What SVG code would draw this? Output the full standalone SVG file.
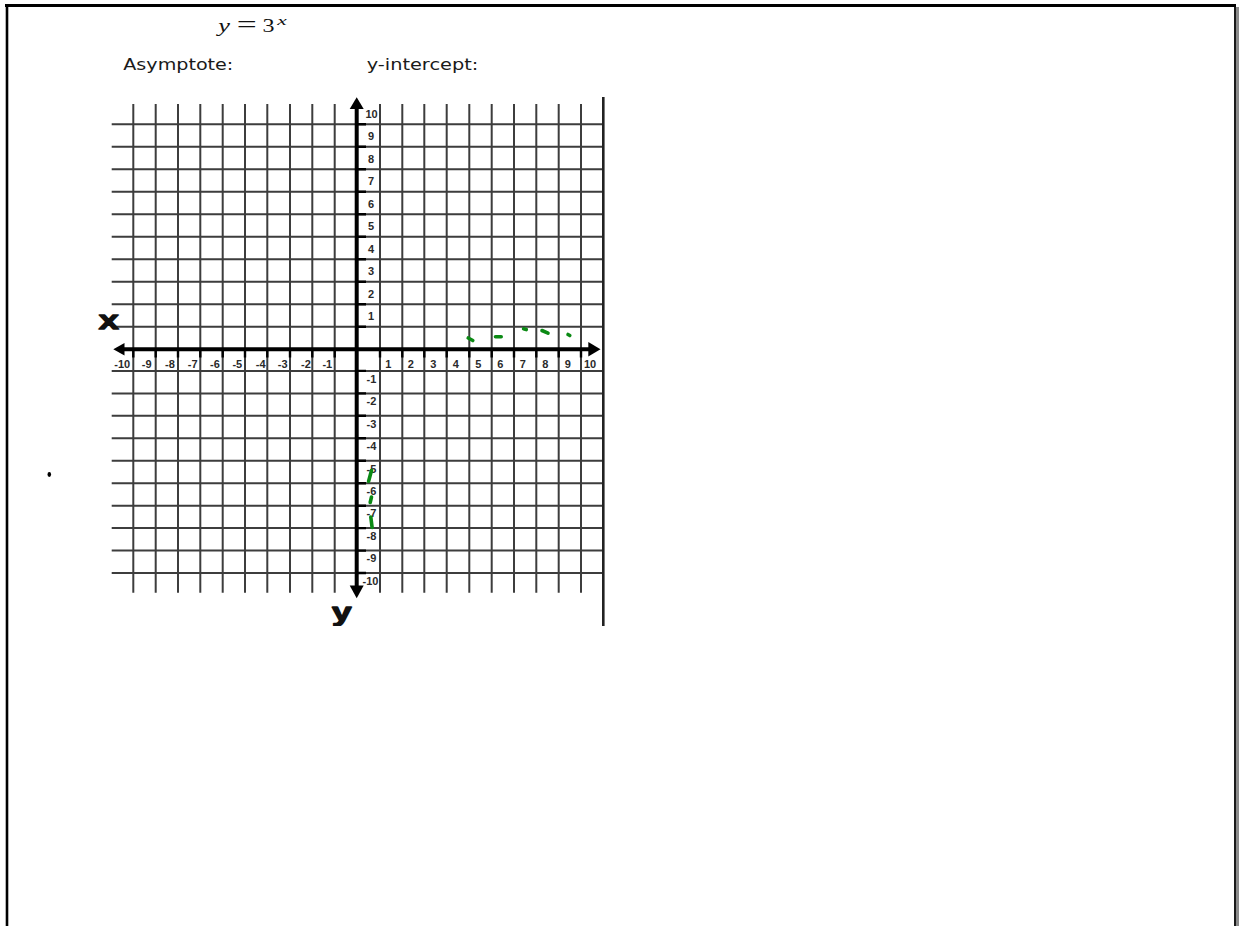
<svg xmlns="http://www.w3.org/2000/svg" width="1239" height="926" viewBox="0 0 1239 926">
<style>
.grid{stroke:#3d3d3d;stroke-width:2;fill:none}
.axis{stroke:#000;stroke-width:4;fill:none}
.tick{stroke:#000;stroke-width:2.4;fill:none}
.lab{font-family:"Liberation Sans",Arial,sans-serif;font-weight:bold;font-size:11px;fill:#2a2a2a;text-anchor:middle}
.big{font-family:"Liberation Sans",Arial,sans-serif;font-weight:bold;font-size:25.6px;fill:#111;stroke:#111;stroke-width:1.3;stroke-linejoin:round}
.hdr{font-family:"DejaVu Sans",Verdana,sans-serif;font-size:16px;fill:#1a1a1a}
.math{font-family:"Liberation Serif","Times New Roman",serif;fill:#111}
.ink{stroke:#0b8a14;stroke-width:3.6;stroke-linecap:round;fill:none}
</style>
<defs>
<clipPath id="clip"><rect x="0" y="0" width="620" height="626"/></clipPath>
</defs>
<rect width="1239" height="926" fill="#fff"/>
<g id="frame">
<line x1="5" y1="5.5" x2="1236" y2="5.5" stroke="#000" stroke-width="3"/>
<line x1="7" y1="5" x2="7" y2="926" stroke="#000" stroke-width="2.6"/>
<line x1="1235" y1="5" x2="1235" y2="926" stroke="#000" stroke-width="1.8"/>
<rect x="1236" y="7" width="3" height="919" fill="#8a8a8a"/>
</g>
<g id="title">
<text class="math" x="218.3" y="31.7" font-size="18" font-style="italic" textLength="11.7" lengthAdjust="spacingAndGlyphs">y</text>
<text class="math" x="236.7" y="32" font-size="24" textLength="20" lengthAdjust="spacingAndGlyphs">=</text>
<text class="math" x="262.5" y="31.7" font-size="18" textLength="12" lengthAdjust="spacingAndGlyphs">3</text>
<text class="math" x="277.3" y="25" font-size="13" font-style="italic" textLength="9.5" lengthAdjust="spacingAndGlyphs">x</text>
</g>
<g id="asymptote-label"><text class="hdr" x="123.3" y="70" textLength="110" lengthAdjust="spacingAndGlyphs">Asymptote:</text></g>
<g id="intercept-label"><text class="hdr" x="366.7" y="70" textLength="111.6" lengthAdjust="spacingAndGlyphs">y-intercept:</text></g>
<g id="graph" clip-path="url(#clip)">
<g id="grid" class="grid">
<path d="M133.3 104V592.7M155.7 104V592.7M178 104V592.7M200.3 104V592.7M222.7 104V592.7M245 104V592.7M267.3 104V592.7M290 104V592.7M312.3 104V592.7M334.7 104V592.7M380 104V592.7M402.3 104V592.7M424.3 104V592.7M446.7 104V592.7M469.3 104V592.7M491.7 104V592.7M514 104V592.7M536.3 104V592.7M558.7 104V592.7M581 104V592.7"/>
<path d="M111.7 124.3H602M111.7 146.8H602M111.7 169.3H602M111.7 191.8H602M111.7 214.3H602M111.7 236.8H602M111.7 259.3H602M111.7 281.8H602M111.7 304.3H602M111.7 326.8H602M111.7 370.9H602M111.7 393.4H602M111.7 415.8H602M111.7 438.3H602M111.7 460.8H602M111.7 483.2H602M111.7 505.7H602M111.7 528.1H602M111.7 550.6H602M111.7 573H602"/>
</g>
<line id="right-edge" x1="603.3" y1="97" x2="603.3" y2="626" stroke="#222" stroke-width="2.6"/>
<g id="ticks" class="tick">
<path d="M356.7 124.3H366M356.7 146.8H366M356.7 169.3H366M356.7 191.8H366M356.7 214.3H366M356.7 236.8H366M356.7 259.3H366M356.7 281.8H366M356.7 304.3H366M356.7 326.8H366M356.7 370.9H366M356.7 393.4H366M356.7 415.8H366M356.7 438.3H366M356.7 460.8H366M356.7 483.2H366M356.7 505.7H366M356.7 528.1H366M356.7 550.6H366M356.7 573H366"/>
<path d="M133.3 349.3V357.5M155.7 349.3V357.5M178 349.3V357.5M200.3 349.3V357.5M222.7 349.3V357.5M245 349.3V357.5M267.3 349.3V357.5M290 349.3V357.5M312.3 349.3V357.5M334.7 349.3V357.5M380 349.3V357.5M402.3 349.3V357.5M424.3 349.3V357.5M446.7 349.3V357.5M469.3 349.3V357.5M491.7 349.3V357.5M514 349.3V357.5M536.3 349.3V357.5M558.7 349.3V357.5M581 349.3V357.5"/>
</g>
<g id="axes">
<line class="axis" x1="356.7" y1="106" x2="356.7" y2="587"/>
<line class="axis" x1="122" y1="349.3" x2="590" y2="349.3"/>
<polygon points="356.7,97.3 349.7,109 363.7,109" fill="#000"/>
<polygon points="356.7,598.3 349.7,585.5 363.7,585.5" fill="#000"/>
<polygon points="113.3,349.3 124.5,343 124.5,355.6" fill="#000"/>
<polygon points="600.5,349.3 588.3,342 588.3,356.6" fill="#000"/>
</g>
<g id="y-labels" class="lab">
<text x="371.5" y="118">10</text>
<text x="371" y="140.3">9</text>
<text x="371" y="162.8">8</text>
<text x="371" y="185.2">7</text>
<text x="371" y="207.7">6</text>
<text x="371" y="230.1">5</text>
<text x="371" y="252.6">4</text>
<text x="371" y="275">3</text>
<text x="371" y="297.5">2</text>
<text x="371" y="320">1</text>
<text x="371.5" y="382.7">-1</text>
<text x="371.5" y="405.2">-2</text>
<text x="371.5" y="427.6">-3</text>
<text x="371.5" y="450.1">-4</text>
<text x="371.5" y="472.5">-5</text>
<text x="371.5" y="495">-6</text>
<text x="371.5" y="517.4">-7</text>
<text x="371.5" y="539.9">-8</text>
<text x="371.5" y="562.3">-9</text>
<text x="370.5" y="584.8">-10</text>
</g>
<g id="x-labels" class="lab">
<text x="122.3" y="368">-10</text>
<text x="146.7" y="368">-9</text>
<text x="170" y="368">-8</text>
<text x="192.7" y="368">-7</text>
<text x="215" y="368">-6</text>
<text x="237.3" y="368">-5</text>
<text x="260.7" y="368">-4</text>
<text x="282.7" y="368">-3</text>
<text x="306" y="368">-2</text>
<text x="327.3" y="368">-1</text>
<text x="388.3" y="368">1</text>
<text x="410.7" y="368">2</text>
<text x="433.3" y="368">3</text>
<text x="455.7" y="368">4</text>
<text x="478.3" y="368">5</text>
<text x="500.3" y="368">6</text>
<text x="522.7" y="368">7</text>
<text x="545.3" y="368">8</text>
<text x="567.7" y="368">9</text>
<text x="590" y="368">10</text>
</g>
<g id="axis-names">
<text class="big" x="98.8" y="329" textLength="20" lengthAdjust="spacingAndGlyphs">x</text>
<text class="big" x="332" y="621" textLength="19.5" lengthAdjust="spacingAndGlyphs">y</text>
</g>
<g id="green-marks" class="ink">
<path d="M468.2 338L472.8 340.5"/>
<path d="M495.5 336.8H501.2"/>
<path d="M523.6 328.8L526.3 329.6"/>
<path d="M542 330.5L548 333.2"/>
<path d="M568 334.5L569.8 335.5"/>
<path d="M371.5 470.5L368.6 481.2"/>
<path d="M371.5 497L370.2 502.5"/>
<path d="M370.8 517L372.1 527.4"/>
</g>
</g>
<g id="dot"><ellipse cx="49.3" cy="474.5" rx="1.8" ry="2.4" fill="#000"/></g>
</svg>
